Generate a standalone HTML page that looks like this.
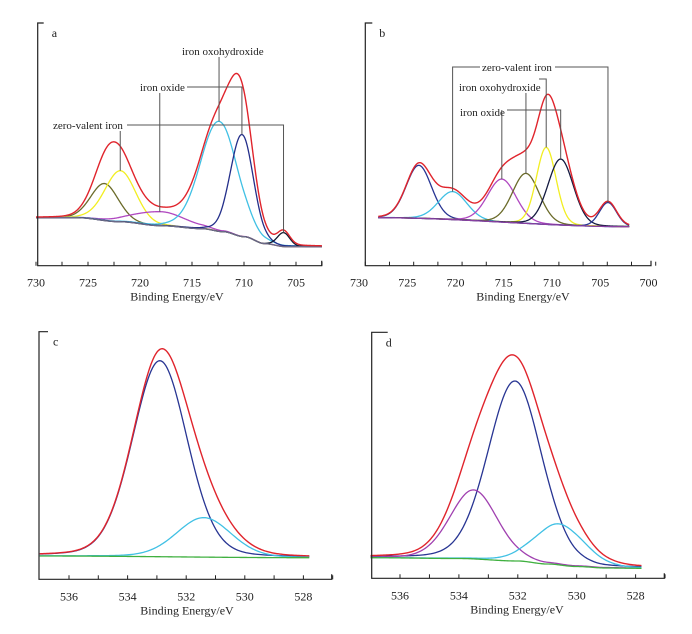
<!DOCTYPE html>
<html><head><meta charset="utf-8"><style>
html,body{margin:0;padding:0;background:#fff;}
svg{display:block;font-family:"Liberation Serif",serif;}
</style></head><body>
<svg id="chart" width="692" height="634" viewBox="0 0 692 634" xmlns="http://www.w3.org/2000/svg"></svg>
<script>
// ---------- Panel a (Fe 2p, sample a) ----------
const aCenters = [723.4, 721.9, 718.1, 712.4, 710.2, 706.2];
const aHeights = [37, 51, 14, 110, 102, 14];
const aWidths  = [3.1, 3.5, 5.9, 4.2, 2.6, 1.4];
const aColors  = ["#6b6b2a", "#f2ee22", "#b048c0", "#40c0e4", "#232e8a", "#141a30"];
const aBgE = [730, 726, 722, 718, 714, 712, 710, 708, 706, 702.5];
const aBgV = [48, 48, 44, 40, 37, 34, 29, 22, 19, 19];
const aTicks = [730, 727.5, 725, 722.5, 720, 717.5, 715, 712.5, 710, 707.5, 705, 702.5];
const aTickLabels = ["730", "725", "720", "715", "710", "705"];
const aTickLabelVals = [730, 725, 720, 715, 710, 705];
// ---------- Panel b ----------
const bCenters = [723.8, 720.3, 715.2, 712.7, 710.6, 709.1, 704.2];
const bHeights = [53, 28, 43, 50, 77, 66, 24];
const bWidths  = [3.1, 3.5, 3.5, 3.3, 2.4, 3.1, 2.1];
const bColors  = ["#283593", "#40c0e4", "#b048c0", "#6b6b2a", "#f2ee22", "#141a40", "#283593"];
const bBgE = [728, 702];
const bBgV = [48, 39];
const bTickLabels = ["730", "725", "720", "715", "710", "705", "700"];
const bTickLabelVals = [730, 725, 720, 715, 710, 705, 700];
// ---------- Panel c (O 1s) ----------
const cCenters = [532.9, 531.4];
const cHeights = [196, 39.5];
const cWidths  = [2.2, 2.2];
const cColors  = ["#283593", "#40c0e4"];
const cBgE = [537, 527.8];
const cBgV = [23.3, 21.6];
const cTickLabels = ["536", "534", "532", "530", "528"];
const cTickLabelVals = [536, 534, 532, 530, 528];
// ---------- Panel d ----------
const dCenters = [532.1, 533.5, 530.6];
const dHeights = [180, 69, 41];
const dWidths  = [2.15, 1.9, 2.0];
const dColors  = ["#283593", "#a040b0", "#40c0e4"];
const dBgE = [537, 534, 532, 531, 530, 529, 527.8];
const dBgV = [20.6, 19.8, 17.3, 14.3, 11.8, 10.3, 10];
const dTickLabels = ["536", "534", "532", "530", "528"];
const dTickLabelVals = [536, 534, 532, 530, 528];

const NS = "http://www.w3.org/2000/svg";
const svg = document.getElementById("chart");
function mk(tag, attrs, parent){
  const e = document.createElementNS(NS, tag);
  for (const k in attrs) e.setAttribute(k, attrs[k]);
  (parent||svg).appendChild(e);
  return e;
}
function pv(E,c,h,f,eta){const d=(E-c)/f;return h*((1-eta)*Math.exp(-4*Math.LN2*d*d)+eta/(1+4*d*d));}
function interp(E,xs,ys){
  if (E>=xs[0]) return ys[0];
  if (E<=xs[xs.length-1]) return ys[ys.length-1];
  for(let i=0;i<xs.length-1;i++){
    if(E<=xs[i]&&E>=xs[i+1]){const t=(xs[i]-E)/(xs[i]-xs[i+1]);
      const s=t*t*(3-2*t);return ys[i]+(ys[i+1]-ys[i])*s;}
  }
}
function panel(p){
  const g = mk("g",{});
  
  
  const xs = E => p.x0 + (p.e0 - E)*p.k;
  const ys = v => p.bottom - v;
  const bg = E => interp(E,p.bgE,p.bgV);
  const step = 0.05;
  const Es=[]; for(let E=p.eStart;E>=p.eEnd-1e-9;E-=step) Es.push(E);
  // components
  p.centers.forEach((c,j)=>{
    let dd="";
    Es.forEach((E,i)=>{dd+=(i?"L":"M")+xs(E).toFixed(2)+","+ys(bg(E)+pv(E,c,p.heights[j],p.widths[j],p.eta)).toFixed(2);});
    const pe = mk("path",{d:dd,fill:"none",stroke:p.colors[j],"stroke-width":1.3},g);
    
    
  });
  // background line
  let d="";
  Es.forEach((E,i)=>{d+=(i?"L":"M")+xs(E).toFixed(2)+","+ys(bg(E)).toFixed(2);});
  const bl = mk("path",{d:d,fill:"none",stroke:p.bgColor,"stroke-width":1.3},g);
  
  
  // envelope
  let de="";
  Es.forEach((E,i)=>{let s=bg(E);p.centers.forEach((c,j)=>{s+=pv(E,c,p.heights[j],p.widths[j],p.eta);});
    de+=(i?"L":"M")+xs(E).toFixed(2)+","+ys(s).toFixed(2);});
  const env = mk("path",{d:de,fill:"none",stroke:"#e0242c","stroke-width":1.4},g);
  
  
  // axes
  const ax = mk("path",{d:`M${p.axL+p.topTick},${p.top}H${p.axL}V${p.bottom}H${p.axR}V${p.bottom-5}`,fill:"none",stroke:"#222","stroke-width":1.2},g);
  
  
  p.ticks.forEach(t=>{
    const tk = mk("line",{x1:p.tickX(t),x2:p.tickX(t),y1:p.bottom,y2:p.bottom-4,stroke:"#222","stroke-width":1},g);
    
    
  });
  p.labelVals.forEach((v,i)=>{
    const tl = mk("text",{x:xs(v),y:p.bottom+21,"text-anchor":"middle","font-size":12,fill:"#222"},g);
    tl.textContent = p.labels[i];
    
    
  });
  const tt = mk("text",{x:p.titleX,y:p.bottom+35,"text-anchor":"middle","font-size":12,fill:"#222"},g);
  tt.textContent = "Binding Energy/eV";
  
  
  const pl = mk("text",{x:p.axL+14,y:p.top+14,"font-size":12,fill:"#222"},g);
  pl.textContent = p.letter;
  
  
  const peakY = j => ys(bg(p.centers[j])+p.heights[j]);
  (p.annotations||[]).forEach(a=>{
    const t = mk("text",{x:a.tx,y:a.ty+4,"font-size":11,fill:"#222"},g);
    t.textContent = a.text;
    
    
    a.lines.forEach(l=>{
      const px = xs(p.centers[l.j]);
      const dl = l.hx!==undefined ? `M${l.hx},${l.y}H${px}V${peakY(l.j)}` : `M${px},${l.y}V${peakY(l.j)}`;
      const ln = mk("path",{d:dl,fill:"none",stroke:"#555","stroke-width":1},g);
      
      
    });
  });
}
const bTickE=[]; for(let i=0;i<13;i++) bTickE.push(729.35-i*2.508);
const cTickE=[]; for(let v=536;v>=527;v--) cTickE.push(v);
panel({name:"panel-a",letter:"a",x0:36,e0:730,k:10.4,bottom:265.7,top:23,axL:37.7,axR:321.7,topTick:6,
  eStart:730,eEnd:702.5,eta:0.1,centers:aCenters,heights:aHeights,widths:aWidths,colors:aColors,
  bgE:aBgE,bgV:aBgV,bgColor:"#6a6a88",ticks:aTicks,tickX:E=>36+(730-E)*10.4,labels:aTickLabels,labelVals:aTickLabelVals,titleX:177,
  annotations:[
   {text:"iron oxohydroxide",tx:182,ty:51,lines:[{j:3,y:57}]},
   {text:"iron oxide",tx:140,ty:87,lines:[{j:4,y:87,hx:187},{j:2,y:93}]},
   {text:"zero-valent iron",tx:53,ty:125,lines:[{j:5,y:125,hx:127},{j:1,y:131}]}
  ]});
panel({name:"panel-b",letter:"b",x0:359,e0:730,k:9.65,bottom:265.7,top:23,axL:365.3,axR:651,topTick:7,
  eStart:728,eEnd:702,eta:0.1,centers:bCenters,heights:bHeights,widths:bWidths,colors:bColors,
  bgE:bBgE,bgV:bBgV,bgColor:"#8a40a0",ticks:bTickE,tickX:E=>359+(730-E)*9.65,labels:bTickLabels,labelVals:bTickLabelVals,titleX:523,
  annotations:[
   {text:"zero-valent iron",tx:482,ty:67,lines:[{j:1,y:67,hx:480},{j:6,y:67,hx:555},{j:4,y:79,hx:539}]},
   {text:"iron oxohydroxide",tx:459,ty:87,lines:[{j:3,y:93}]},
   {text:"iron oxide",tx:460,ty:112,lines:[{j:5,y:110,hx:507},{j:2,y:110}]}
  ]});
panel({name:"panel-c",letter:"c",x0:69,e0:536,k:29.3,bottom:579.3,top:331.7,axL:39,axR:331.7,topTick:9,
  eStart:537,eEnd:527.8,eta:0.15,centers:cCenters,heights:cHeights,widths:cWidths,colors:cColors,
  bgE:cBgE,bgV:cBgV,bgColor:"#40b040",ticks:cTickE,tickX:E=>69+(536-E)*29.3,labels:cTickLabels,labelVals:cTickLabelVals,titleX:187});
panel({name:"panel-d",letter:"d",x0:400,e0:536,k:29.45,bottom:578.3,top:332.3,axL:371.7,axR:664.3,topTick:16,
  eStart:537,eEnd:527.8,eta:0.15,centers:dCenters,heights:dHeights,widths:dWidths,colors:dColors,
  bgE:dBgE,bgV:dBgV,bgColor:"#40b040",ticks:cTickE,tickX:E=>400+(536-E)*29.45,labels:dTickLabels,labelVals:dTickLabelVals,titleX:517});
</script>
</body></html>
